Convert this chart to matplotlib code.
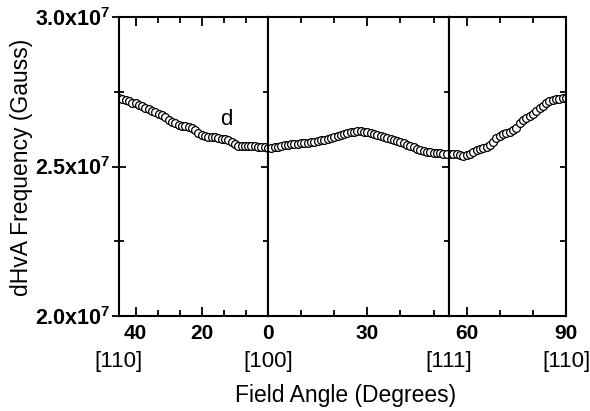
import matplotlib
matplotlib.use('Agg')
import numpy as np
import matplotlib.pyplot as plt
from matplotlib.ticker import MultipleLocator

plt.rcParams['font.family'] = 'Liberation Sans'
plt.rcParams['mathtext.fontset'] = 'custom'
plt.rcParams['mathtext.rm'] = 'Liberation Sans'
plt.rcParams['mathtext.bf'] = 'Liberation Sans:bold'

# dHvA frequency (units of 1e7 G) vs field angle, orbit "d"
# [110] -> [100] : angle 45 ... 0
ang_a = list(range(45, -1, -1))
freq_a = [2.728, 2.725, 2.722, 2.718, 2.714, 2.711, 2.707, 2.702, 2.697, 2.692,
          2.687, 2.682, 2.677, 2.672, 2.665, 2.657, 2.650, 2.644, 2.640, 2.636,
          2.635, 2.632, 2.628, 2.621, 2.612, 2.605, 2.602, 2.600, 2.599, 2.598,
          2.596, 2.593, 2.591, 2.589, 2.582, 2.575, 2.569, 2.567, 2.568, 2.570,
          2.570, 2.568, 2.566, 2.565, 2.564, 2.562]

# [100] -> [111] : angle 0 ... 54.7
ang_b = list(range(1, 55))
freq_b = [2.562, 2.564, 2.566, 2.569, 2.571, 2.573, 2.574, 2.575, 2.576, 2.577,
          2.579, 2.580, 2.582, 2.583, 2.585, 2.588, 2.590, 2.593, 2.596, 2.599,
          2.602, 2.605, 2.608, 2.612, 2.615, 2.617, 2.619, 2.619, 2.617, 2.614,
          2.611, 2.608, 2.604, 2.601, 2.597, 2.594, 2.591, 2.588, 2.585, 2.581,
          2.578, 2.573, 2.568, 2.564, 2.560, 2.556, 2.553, 2.550, 2.547, 2.545,
          2.544, 2.544, 2.543, 2.543]

# [111] -> [110] : angle 54.7 ... 90
ang_c = list(range(55, 91))
freq_c = [2.543, 2.543, 2.542, 2.538, 2.535, 2.538, 2.543, 2.549, 2.554, 2.558,
          2.562, 2.566, 2.571, 2.581, 2.594, 2.603, 2.608, 2.612, 2.617, 2.621,
          2.630, 2.645, 2.655, 2.662, 2.668, 2.676, 2.685, 2.695, 2.704, 2.712,
          2.719, 2.724, 2.726, 2.727, 2.728, 2.728]

ANG_111 = 54.7

fig = plt.figure(figsize=(5.9, 4.11), dpi=100)
gs = fig.add_gridspec(1, 3, width_ratios=[45, ANG_111, 90 - ANG_111], wspace=0,
                      left=119/590, right=566/590, top=1-17/411, bottom=1-316/411)
ax1 = fig.add_subplot(gs[0])
ax2 = fig.add_subplot(gs[1], sharey=ax1)
ax3 = fig.add_subplot(gs[2], sharey=ax1)

mk = dict(marker='o', ls='none', ms=5.6, mfc='white', mec='black', mew=0.9)
ax1.plot(ang_a, np.array(freq_a) * 1e7, **mk)
ax2.plot(ang_b, np.array(freq_b) * 1e7, **mk)
ax3.plot(ang_c, np.array(freq_c) * 1e7, **mk)

ax1.set_xlim(45, 0)
ax2.set_xlim(0, ANG_111)
ax3.set_xlim(ANG_111, 90)
ax1.set_ylim(2.0e7, 3.0e7)

for ax in (ax1, ax2, ax3):
    for s in ax.spines.values():
        s.set_linewidth(1.5)
    ax.tick_params(axis='x', which='both', direction='in', top=True, width=1.3)
    ax.tick_params(axis='x', which='major', length=6.5, pad=6)
    ax.tick_params(axis='x', which='minor', length=4)
    ax.yaxis.set_major_locator(MultipleLocator(0.5e7))
    ax.yaxis.set_minor_locator(MultipleLocator(0.25e7))

# x ticks
ax1.set_xticks([40, 20, 0], labels=['40', '20', '0'], fontweight='bold', fontsize=15)
ax1.xaxis.set_minor_locator(MultipleLocator(20 / 3))
ax2.set_xticks([30], labels=['30'], fontweight='bold', fontsize=15)
ax2.set_xticks([10, 20, 40, 50], minor=True)
ax3.set_xticks([60, 90], labels=['60', '90'], fontweight='bold', fontsize=15)
ax3.set_xticks([70, 80], minor=True)

# y ticks: crossing ticks on the dividers
ax1.tick_params(axis='y', which='both', direction='inout', left=True, right=True, width=1.3)
ax1.tick_params(axis='y', which='major', length=10, pad=1)
ax1.tick_params(axis='y', which='minor', length=7)
ax2.tick_params(axis='y', which='both', direction='inout', left=False, right=True,
                labelleft=False, width=1.3)
ax2.tick_params(axis='y', which='major', length=10)
ax2.tick_params(axis='y', which='minor', length=7)
ax3.tick_params(axis='y', which='both', direction='in', left=False, right=True,
                labelleft=False, width=1.3, length=4.5)

ytk = [2.0e7, 2.5e7, 3.0e7]
ylab = [r'$\mathbf{2.0x10^{7}}$', r'$\mathbf{2.5x10^{7}}$', r'$\mathbf{3.0x10^{7}}$']
ax1.set_yticks(ytk, labels=ylab, fontsize=15.5)

# direction labels
dir_pos = [(ax1, 45, '[110]'), (ax1, 0, '[100]'), (ax3, ANG_111, '[111]'), (ax3, 90, '[110]')]
for ax, x, s in dir_pos:
    ax.text(x, -0.152, s, transform=ax.get_xaxis_transform(), ha='center', va='center',
            fontsize=16, clip_on=False)

ax1.text(12.5, 2.656e7, 'd', ha='center', va='center', fontsize=16)

fig.text(346/590, 1-402/411, 'Field Angle (Degrees)', ha='center', va='baseline', fontsize=16.5)
fig.text(22/590, 1-167/411, 'dHvA Frequency (Gauss)', rotation=90, ha='center',
         va='center', fontsize=16.5)

fig.savefig('out.png', dpi=100)
